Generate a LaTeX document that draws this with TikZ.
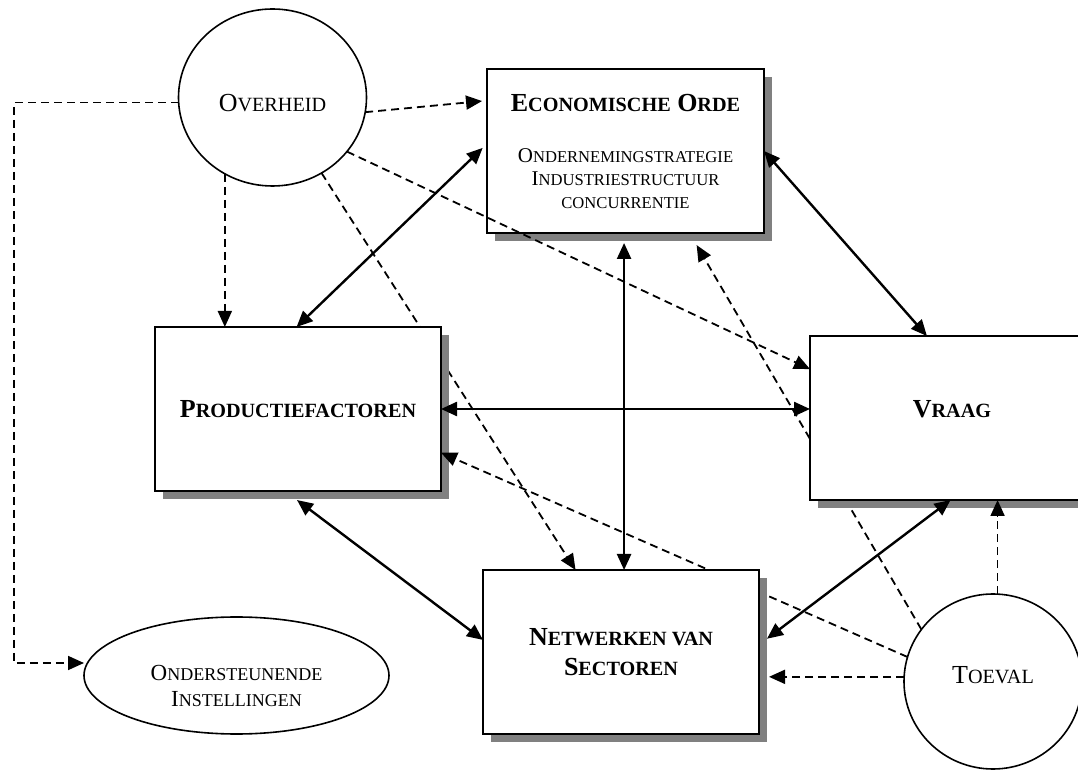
\documentclass[tikz,border=0pt]{standalone}
\usepackage{fontspec}
\setmainfont{Liberation Serif}
\usetikzlibrary{shapes.geometric,arrows.meta,shadows}
\newcommand\SCa[1]{{\fontsize{10.1pt}{12pt}\selectfont #1}}
\newcommand\SCb[1]{{\fontsize{8.3pt}{10pt}\selectfont #1}}
\newcommand\SCc[1]{{\fontsize{9pt}{10pt}\selectfont #1}}
\pgfdeclarelayer{back}
\pgfdeclarelayer{low}
\pgfdeclarelayer{mid}
\pgfsetlayers{back,low,mid,main}
\tikzset{
  box/.style={draw, line width=1.1pt, fill=white, rectangle, inner sep=0pt, outer sep=0pt,
    drop shadow={shadow xshift=4pt, shadow yshift=-4pt, fill=black!50, opacity=1}},
  oval/.style={draw, line width=0.8pt, fill=white, ellipse, inner sep=0pt, outer sep=0pt},
  big/.style={font=\fontsize{13pt}{15pt}\selectfont},
  bigb/.style={font=\bfseries\fontsize{13pt}{15pt}\selectfont},
  dbl/.style={line width=1.2pt, {Triangle[length=8pt,width=7pt]}-{Triangle[length=8pt,width=7pt]}},
  dsh/.style={line width=0.9pt, dash pattern=on 4pt off 2.5pt, -{Triangle[length=8pt,width=7pt]}}
}
\begin{document}
\begin{tikzpicture}[x=0.5pt,y=-0.5pt]
\useasboundingbox (0,0) rectangle (1078,770);
% boxes
\begin{pgfonlayer}{low}
\node[box, bigb, minimum width=143pt, minimum height=82pt] (pf) at (298,409) {P\SCa{RODUCTIEFACTOREN}};
\node[box, bigb, minimum width=142pt, minimum height=82pt] (vr) at (952,418) {V\SCa{RAAG}\rule[-9pt]{0pt}{0pt}};
\end{pgfonlayer}
\node[box, align=center, font=\fontsize{10.5pt}{11.5pt}\selectfont, minimum width=138.5pt, minimum height=82pt] (eo) at (625.5,151)
  {{\bfseries\fontsize{13pt}{15pt}\selectfont E\SCa{CONOMISCHE} O\SCa{RDE}}\\[14pt]
   O\SCb{NDERNEMINGSTRATEGIE}\\
   I\SCb{NDUSTRIESTRUCTUUR}\\
   \SCb{CONCURRENTIE}};
\node[box, bigb, align=center, minimum width=138pt, minimum height=82pt] (nw) at (621,652)
  {N\SCa{ETWERKEN VAN}\\ S\SCa{ECTOREN}};
% ovals
\node[oval, big, minimum width=94pt, minimum height=88.5pt] (ov) at (272.5,97.5) {\rule{0pt}{14pt}O\SCa{VERHEID}};
\node[oval, align=center, font=\fontsize{11.5pt}{13pt}\selectfont, minimum width=152.5pt, minimum height=58.5pt] (oi) at (236.5,675.5)
  {\rule{0pt}{18pt}O\SCc{NDERSTEUNENDE}\\ I\SCc{NSTELLINGEN}};
\node[oval, big, minimum width=89pt, minimum height=87.5pt] (tv) at (993,681.5) {T\SCa{OEVAL}\rule[-7pt]{0pt}{0pt}};
\coordinate (c2) at (14,663);
% connectors behind all boxes
\begin{pgfonlayer}{back}
\draw[dsh] (ov.-57.8) -- (nw.119.8);
\draw[dsh, shorten >=7pt] (tv.144) -- (eo.-52.7);
\end{pgfonlayer}
\begin{pgfonlayer}{mid}
\draw[dsh] (tv.164.4) -- (pf.-17.1);
\end{pgfonlayer}
% other connectors
\draw[dsh] (ov.183) -| (c2) -- (c2 -| oi.west);
\draw[dsh, shorten >=2.5pt] (ov.-9.4) -- (eo.160.9);
\draw[dsh] (ov.238.1) -- (ov.238.1 |- pf.north);
\draw[dsh] (ov.-36.2) -- (vr.161);
\draw[dbl, shorten <=3pt] (eo.177.5) -- (pf.91.4);
\draw[dbl] (eo.-0.83) -- (vr.107);
\draw[dbl, shorten <=5pt] (eo.-91.7) -- (eo.-91.7 |- nw.north);
\draw[dbl] (pf.0.8) -- (pf.0.8 -| vr.west);
\draw[dbl, shorten <=7.5pt] (pf.-99.7) -- (nw.175);
\draw[dbl, shorten >=5pt] (vr.-91.4) -- (nw.3.3);
\draw[dsh] (tv.87.4) -- (tv.87.4 |- vr.south);
\draw[dsh, shorten >=5pt] (tv.177.7) -- (tv.177.7 -| nw.east);
\end{tikzpicture}
\end{document}
